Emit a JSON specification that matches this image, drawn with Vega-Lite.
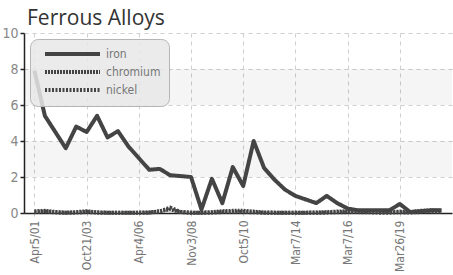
{
  "$schema": "https://vega.github.io/schema/vega-lite/v6.json",
  "width": 428,
  "height": 180,
  "autosize": {"type": "none"},
  "padding": {"left": 24, "top": 33, "right": 1, "bottom": 62},
  "background": "white",
  "title": {"text": "Ferrous Alloys", "anchor": "start", "frame": "group", "offset": -3, "dx": 3, "fontSize": 21, "font": "Open Sans", "fontWeight": "normal", "color": "#333333"},
  "config": {
    "view": {"stroke": null},
    "axisY": {
      "title": null, "values": [0, 2, 4, 6, 8, 10], "labelOverlap": false, "labelFlush": false, "labelBound": false,
      "labelFontSize": 14, "labelColor": "#888888", "labelFont": "Liberation Sans Narrow, DejaVu Sans Condensed, sans-serif", "labelPadding": 2,
      "domainColor": "#222222", "domainWidth": 1.5, "tickSize": 4, "tickColor": "#222222", "tickWidth": 1.5,
      "grid": true, "gridColor": "#cfcfcf", "gridDash": [4, 4]
    },
    "legend": {
      "orient": "top-left", "offset": 6, "padding": 8, "fillColor": "rgba(232,232,232,0.85)", "strokeColor": "#b5b5b5", "cornerRadius": 8,
      "symbolType": "M0,0H11", "symbolSize": 100, "symbolStrokeColor": "#444444",
      "labelFontSize": 12, "labelColor": "#777777", "labelFont": "Liberation Sans Narrow, DejaVu Sans Condensed, sans-serif",
      "labelOffset": 54, "rowPadding": 2, "title": null
    }
  },
  "layer": [
    {
      "data": {"values": [{"lo": 2, "hi": 4}, {"lo": 6, "hi": 8}]},
      "mark": {"type": "rect", "color": "#000000", "opacity": 0.04},
      "encoding": {
        "y": {"field": "lo", "type": "quantitative", "scale": {"domain": [0, 10], "nice": false}, "axis": {"values": [0, 2, 4, 6, 8, 10], "labelOverlap": false}},
        "y2": {"field": "hi"}
      }
    },
    {
      "data": {"values": [
        {"i": 0, "series": "iron", "value": 7.9}, {"i": 1, "series": "iron", "value": 5.4}, {"i": 2, "series": "iron", "value": 4.5}, {"i": 3, "series": "iron", "value": 3.6}, {"i": 4, "series": "iron", "value": 4.8},
        {"i": 5, "series": "iron", "value": 4.5}, {"i": 6, "series": "iron", "value": 5.4}, {"i": 7, "series": "iron", "value": 4.2}, {"i": 8, "series": "iron", "value": 4.55}, {"i": 9, "series": "iron", "value": 3.7},
        {"i": 10, "series": "iron", "value": 3.05}, {"i": 11, "series": "iron", "value": 2.4}, {"i": 12, "series": "iron", "value": 2.45}, {"i": 13, "series": "iron", "value": 2.1}, {"i": 14, "series": "iron", "value": 2.05},
        {"i": 15, "series": "iron", "value": 2.0}, {"i": 16, "series": "iron", "value": 0.2}, {"i": 17, "series": "iron", "value": 1.9}, {"i": 18, "series": "iron", "value": 0.55}, {"i": 19, "series": "iron", "value": 2.55},
        {"i": 20, "series": "iron", "value": 1.5}, {"i": 21, "series": "iron", "value": 4.0}, {"i": 22, "series": "iron", "value": 2.5}, {"i": 23, "series": "iron", "value": 1.85}, {"i": 24, "series": "iron", "value": 1.3},
        {"i": 25, "series": "iron", "value": 0.95}, {"i": 26, "series": "iron", "value": 0.75}, {"i": 27, "series": "iron", "value": 0.55}, {"i": 28, "series": "iron", "value": 0.95}, {"i": 29, "series": "iron", "value": 0.55},
        {"i": 30, "series": "iron", "value": 0.25}, {"i": 31, "series": "iron", "value": 0.15}, {"i": 32, "series": "iron", "value": 0.15}, {"i": 33, "series": "iron", "value": 0.15}, {"i": 34, "series": "iron", "value": 0.15},
        {"i": 35, "series": "iron", "value": 0.5}, {"i": 36, "series": "iron", "value": 0.05}, {"i": 37, "series": "iron", "value": 0.1}, {"i": 38, "series": "iron", "value": 0.15}, {"i": 39, "series": "iron", "value": 0.15},
        {"i": 0, "series": "chromium", "value": 0.1}, {"i": 1, "series": "chromium", "value": 0.12}, {"i": 2, "series": "chromium", "value": 0.06}, {"i": 3, "series": "chromium", "value": 0.02}, {"i": 4, "series": "chromium", "value": 0.05},
        {"i": 5, "series": "chromium", "value": 0.1}, {"i": 6, "series": "chromium", "value": 0.04}, {"i": 7, "series": "chromium", "value": 0.02}, {"i": 8, "series": "chromium", "value": 0.02}, {"i": 9, "series": "chromium", "value": 0.02},
        {"i": 10, "series": "chromium", "value": 0.02}, {"i": 11, "series": "chromium", "value": 0.03}, {"i": 12, "series": "chromium", "value": 0.1}, {"i": 13, "series": "chromium", "value": 0.2}, {"i": 14, "series": "chromium", "value": 0.05},
        {"i": 15, "series": "chromium", "value": 0.02}, {"i": 16, "series": "chromium", "value": 0.02}, {"i": 17, "series": "chromium", "value": 0.05}, {"i": 18, "series": "chromium", "value": 0.1}, {"i": 19, "series": "chromium", "value": 0.12},
        {"i": 20, "series": "chromium", "value": 0.12}, {"i": 21, "series": "chromium", "value": 0.08}, {"i": 22, "series": "chromium", "value": 0.03}, {"i": 23, "series": "chromium", "value": 0.02}, {"i": 24, "series": "chromium", "value": 0.02},
        {"i": 25, "series": "chromium", "value": 0.02}, {"i": 26, "series": "chromium", "value": 0.02}, {"i": 27, "series": "chromium", "value": 0.03}, {"i": 28, "series": "chromium", "value": 0.05}, {"i": 29, "series": "chromium", "value": 0.08},
        {"i": 30, "series": "chromium", "value": 0.1}, {"i": 31, "series": "chromium", "value": 0.1}, {"i": 32, "series": "chromium", "value": 0.08}, {"i": 33, "series": "chromium", "value": 0.05}, {"i": 34, "series": "chromium", "value": 0.05},
        {"i": 35, "series": "chromium", "value": 0.08}, {"i": 36, "series": "chromium", "value": 0.05}, {"i": 37, "series": "chromium", "value": 0.12}, {"i": 38, "series": "chromium", "value": 0.15}, {"i": 39, "series": "chromium", "value": 0.12},
        {"i": 0, "series": "nickel", "value": 0.05}, {"i": 1, "series": "nickel", "value": 0.08}, {"i": 2, "series": "nickel", "value": 0.03}, {"i": 3, "series": "nickel", "value": 0.01}, {"i": 4, "series": "nickel", "value": 0.02},
        {"i": 5, "series": "nickel", "value": 0.06}, {"i": 6, "series": "nickel", "value": 0.02}, {"i": 7, "series": "nickel", "value": 0.01}, {"i": 8, "series": "nickel", "value": 0.01}, {"i": 9, "series": "nickel", "value": 0.01},
        {"i": 10, "series": "nickel", "value": 0.01}, {"i": 11, "series": "nickel", "value": 0.02}, {"i": 12, "series": "nickel", "value": 0.08}, {"i": 13, "series": "nickel", "value": 0.3}, {"i": 14, "series": "nickel", "value": 0.06},
        {"i": 15, "series": "nickel", "value": 0.01}, {"i": 16, "series": "nickel", "value": 0.01}, {"i": 17, "series": "nickel", "value": 0.02}, {"i": 18, "series": "nickel", "value": 0.05}, {"i": 19, "series": "nickel", "value": 0.06},
        {"i": 20, "series": "nickel", "value": 0.06}, {"i": 21, "series": "nickel", "value": 0.04}, {"i": 22, "series": "nickel", "value": 0.01}, {"i": 23, "series": "nickel", "value": 0.01}, {"i": 24, "series": "nickel", "value": 0.01},
        {"i": 25, "series": "nickel", "value": 0.01}, {"i": 26, "series": "nickel", "value": 0.01}, {"i": 27, "series": "nickel", "value": 0.01}, {"i": 28, "series": "nickel", "value": 0.02}, {"i": 29, "series": "nickel", "value": 0.04},
        {"i": 30, "series": "nickel", "value": 0.05}, {"i": 31, "series": "nickel", "value": 0.05}, {"i": 32, "series": "nickel", "value": 0.04}, {"i": 33, "series": "nickel", "value": 0.02}, {"i": 34, "series": "nickel", "value": 0.02},
        {"i": 35, "series": "nickel", "value": 0.04}, {"i": 36, "series": "nickel", "value": 0.02}, {"i": 37, "series": "nickel", "value": 0.06}, {"i": 38, "series": "nickel", "value": 0.08}, {"i": 39, "series": "nickel", "value": 0.06}
      ]},
      "mark": {"type": "line", "color": "#444444", "strokeJoin": "round"},
      "encoding": {
        "x": {
          "field": "i", "type": "quantitative",
          "scale": {"domain": [-1, 40], "nice": false, "zero": false},
          "axis": {
            "title": null, "values": [0, 5, 10, 15, 20, 25, 30, 35],
            "labelExpr": "['Apr5/01','Oct21/03','Apr4/06','Nov3/08','Oct5/10','Mar7/14','Mar7/16','Mar26/19'][datum.value/5]",
            "labelAngle": -90, "labelAlign": "right", "labelBaseline": "middle", "labelPadding": 4,
            "labelFontSize": 12, "labelColor": "#777777", "labelFont": "Liberation Sans Narrow, DejaVu Sans Condensed, sans-serif",
            "domainColor": "#222222", "domainWidth": 1.5, "tickSize": 3, "tickColor": "#cccccc",
            "grid": true, "gridColor": "#cfcfcf", "gridDash": [4, 4]
          }
        },
        "y": {"field": "value", "type": "quantitative", "axis": {"values": [0, 2, 4, 6, 8, 10], "labelOverlap": false}},
        "detail": {"field": "series", "type": "nominal"},
        "strokeDash": {"field": "series", "type": "nominal", "scale": {"domain": ["iron", "chromium", "nickel"], "range": [[1, 0], [2, 1], [2, 1.5]]}},
        "strokeWidth": {"field": "series", "type": "nominal", "scale": {"domain": ["iron", "chromium", "nickel"], "range": [4, 4, 2]}}
      }
    }
  ]
}
